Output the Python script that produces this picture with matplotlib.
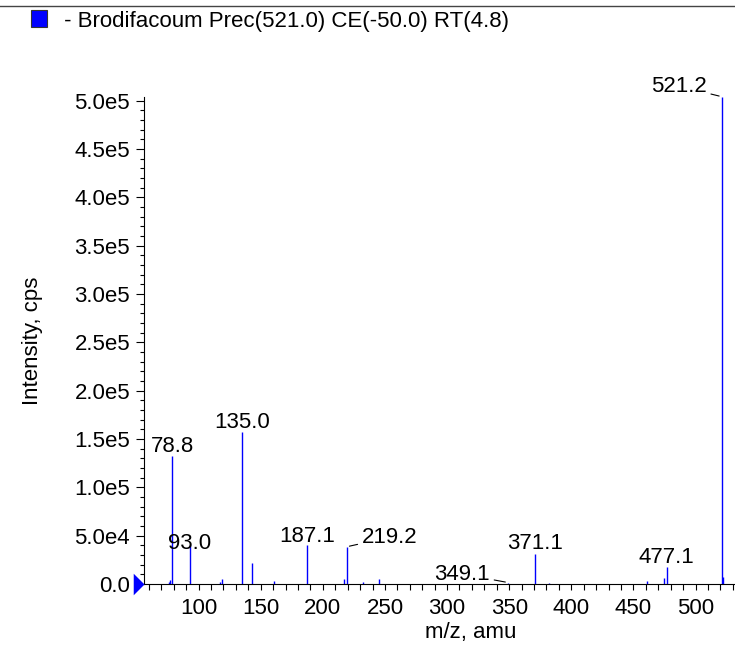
import matplotlib
matplotlib.use("Agg")
import matplotlib.pyplot as plt
from matplotlib.patches import Rectangle
from matplotlib.lines import Line2D
from matplotlib.ticker import MultipleLocator, FuncFormatter

plt.rcParams['font.family'] = ['Liberation Sans', 'DejaVu Sans']
plt.rcParams['font.size'] = 16

# spectrum peaks (m/z, intensity in cps)
mz = [76.0, 77.0, 78.8, 93.0, 117.0, 119.0, 135.0, 143.0, 161.0, 187.1,
      217.0, 219.2, 232.0, 245.0, 349.1, 371.1, 382.0, 461.0, 475.0, 477.1,
      521.2, 522.2]
intensity = [2500, 4000, 132000, 40000, 2500, 5000, 157000, 22000, 3500, 40500,
             5000, 38500, 2000, 5000, 1500, 31000, 1000, 3500, 6500, 17500,
             504000, 7000]

# labelled peaks
labels = ['78.8', '93.0', '135.0', '187.1', '219.2', '349.1', '371.1', '477.1', '521.2']
label_mz = [78.8, 93.0, 135.0, 187.1, 219.2, 349.1, 371.1, 477.1, 521.2]
label_int = [132000, 40000, 157000, 40500, 38500, 1500, 31000, 17500, 504000]

legend_text = ' - Brodifacoum Prec(521.0) CE(-50.0) RT(4.8)'

fig = plt.figure(figsize=(7.35, 6.47), dpi=100)
ax = fig.add_axes([144 / 735, 63 / 647, 591 / 735, 487.3 / 647])

ax.vlines(mz, 0, intensity, colors='#0000ff', lw=1.0, clip_on=False)

ax.set_xlim(56, 531.8)
ax.set_ylim(0, 5.04e5)

# pixel offset, alignment, leader line
offsets = {'78.8': (0, 4, 'center', False), '93.0': (0, -4, 'center', False),
           '135.0': (0, 4, 'center', False), '187.1': (0, 3, 'center', False),
           '219.2': (15, 4, 'left', True), '349.1': (-18, 3, 'right', True),
           '371.1': (0, 5, 'center', False), '477.1': (-1, 4, 'center', False),
           '521.2': (-15, 5, 'right', True)}
for lab, x, y in zip(labels, label_mz, label_int):
    dx, dy, ha, leader = offsets[lab]
    arrow = dict(arrowstyle='-', color='black', lw=0.8, shrinkA=1, shrinkB=2) if leader else None
    ax.annotate(lab, xy=(x, y), xytext=(dx, dy), textcoords='offset pixels',
                ha=ha, va='baseline', fontsize=16, arrowprops=arrow, annotation_clip=False)

# blue triangle marking the zero level
ax.plot([56], [0], marker=[(-1.0, 1), (0, 0), (-1.0, -1)], ms=15.5, mew=0,
        color='#0000ff', clip_on=False, zorder=5)

for side in ['top', 'right']:
    ax.spines[side].set_visible(False)

ax.xaxis.set_major_locator(MultipleLocator(50))
ax.xaxis.set_minor_locator(MultipleLocator(10))
ax.yaxis.set_major_locator(MultipleLocator(5e4))
ax.yaxis.set_minor_locator(MultipleLocator(1e4))


def sci(v, pos):
    if v == 0:
        return '0.0'
    m, e = f'{v:.1e}'.split('e')
    return f'{m}e{int(e)}'


ax.yaxis.set_major_formatter(FuncFormatter(sci))
ax.tick_params(axis='x', which='both', direction='out', length=4, width=0.8, pad=6, labelsize=16)
ax.tick_params(axis='y', which='major', direction='out', length=6, width=0.8, pad=4, labelsize=16)
ax.tick_params(axis='y', which='minor', direction='out', length=3, width=0.8)

ax.set_xlabel('m/z, amu', fontsize=16)
ax.xaxis.set_label_coords(0.552, -0.078)
ax.set_ylabel('Intensity, cps', fontsize=16)
ax.yaxis.label.set_va('center')
ax.yaxis.set_label_coords(-0.188, 0.5)

# header line and legend
fig.add_artist(Line2D([0, 1], [1 - 6 / 647, 1 - 6 / 647], transform=fig.transFigure,
                      color='#444444', lw=1.0))
fig.add_artist(Rectangle((31 / 735, 1 - 27 / 647), 16 / 735, 17 / 647,
                         transform=fig.transFigure, facecolor='#0000ff',
                         edgecolor='#333333', lw=0.8))
fig.text(58 / 735, 1 - 21 / 647, legend_text, ha='left', va='center', fontsize=16)

fig.savefig('out.png', dpi=100)
